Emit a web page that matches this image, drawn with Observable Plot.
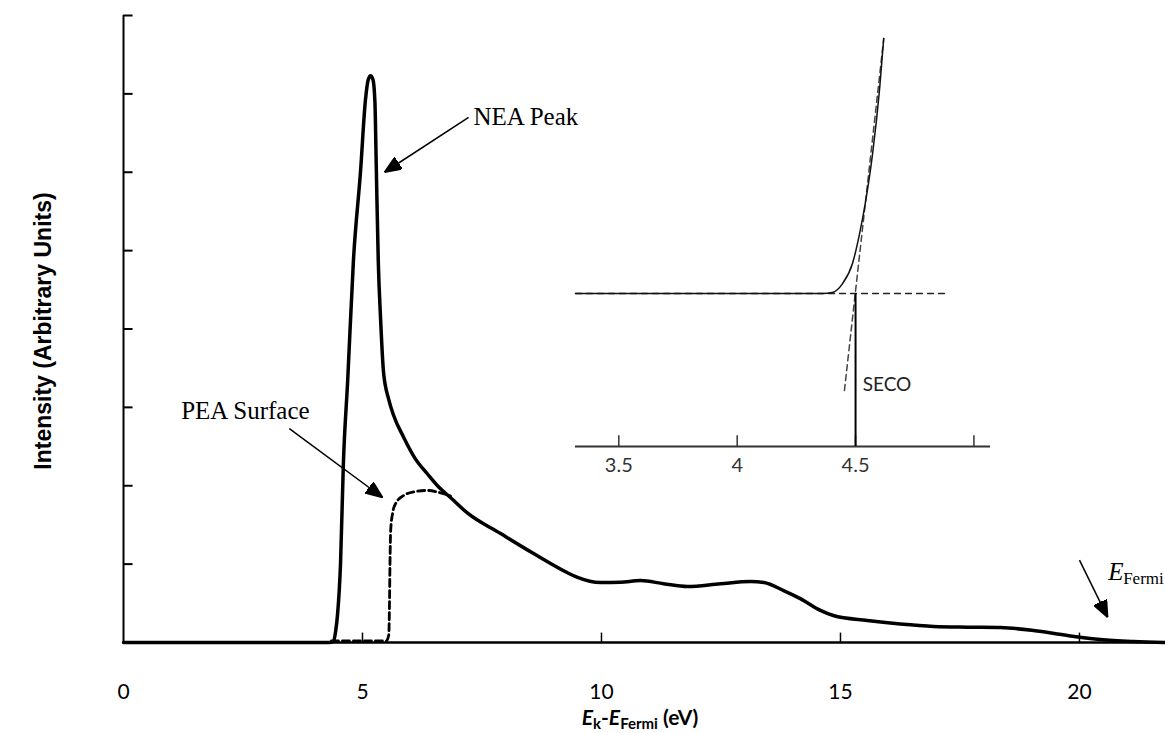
<!DOCTYPE html>
<html>
<head>
<meta charset="utf-8">
<script src="https://cdn.jsdelivr.net/npm/d3@7"></script>
<script src="https://cdn.jsdelivr.net/npm/@observablehq/plot@0.6"></script>
<style>
  body { margin: 0; background: #fff; }
  #wrap { position: relative; width: 1165px; height: 733px; overflow: hidden; }
  #wrap svg { position: absolute; left: 0; top: 0; }
  #xlabel { position: absolute; left: 0; width: 1280px; top: 705px; text-align: center;
            font: bold 21px Lato, sans-serif; line-height: 24px; color: #000; }
  #xlabel sub { font-size: 15px; vertical-align: -4px; line-height: 0; }
</style>
</head>
<body>
<div id="wrap"><div id="xlabel"><i>E</i><sub>k</sub>-<i>E</i><sub>Fermi</sub> (eV)</div></div>
<script>
// ---------- data ----------
const xTicks = [0, 5, 10, 15, 20];
const xTickLabels = ["0", "5", "10", "15", "20"];
const yTicks = [1, 2, 3, 4, 5, 6, 7, 8];

// NEA (solid) spectrum
const neaEnergy = [0, 4.3, 4.39, 4.44, 4.48, 4.54, 4.60, 4.69, 4.81, 4.96, 5.06, 5.12, 5.17, 5.22, 5.26, 5.29, 5.33, 5.38, 5.44, 5.55, 5.65, 5.86, 6.10, 6.36, 6.60, 6.84, 7.20, 7.89, 8.58, 9.29, 9.50, 9.98, 10.40, 10.82, 11.30, 11.80, 12.49, 13.12, 13.40, 13.81, 14.16, 14.58, 14.85, 15.56, 16.25, 16.95, 17.65, 18.35, 19.04, 19.75, 20.44, 21.13, 21.8];
const neaIntensity = [0, 0, 0.01, 0.15, 0.37, 1.0, 2.28, 3.34, 4.87, 6.02, 6.91, 7.18, 7.23, 7.18, 6.9, 6.02, 4.87, 4.11, 3.45, 3.1, 2.9, 2.62, 2.35, 2.15, 1.98, 1.85, 1.65, 1.39, 1.135, 0.89, 0.83, 0.765, 0.77, 0.79, 0.75, 0.714, 0.75, 0.778, 0.765, 0.663, 0.56, 0.41, 0.344, 0.28, 0.235, 0.204, 0.195, 0.19, 0.153, 0.089, 0.038, 0.013, 0];

// PEA surface (dashed) spectrum
const peaEnergy = [4.35, 5.5, 5.55, 5.565, 5.575, 5.59, 5.63, 5.69, 5.86, 6.10, 6.36, 6.60, 6.84];
const peaIntensity = [0.02, 0.02, 0.1, 0.5, 1.0, 1.43, 1.65, 1.77, 1.875, 1.925, 1.94, 1.915, 1.87];

// annotations (data units)
const arrowFrom = [[7.22, 6.70], [3.47, 2.73], [20.0, 1.05]];
const arrowTo = [[5.46, 6.0], [5.42, 1.85], [20.59, 0.32]];
const noteText = ["NEA Peak", "PEA Surface"];
const notePos = [[7.32, 6.70], [2.55, 2.96]];
const fermiPos = [20.6, 0.9];

// inset: zoom of the secondary electron cut-off
const insetTicks = [3.5, 4, 4.5, 5];
const insetTickLabels = ["3.5", "4", "4.5"];
const insetEnergy = [3.317, 4.0, 4.30, 4.36, 4.402, 4.445, 4.487, 4.517, 4.543, 4.572, 4.602, 4.619];
const insetIntensity = [0, 0, 0, 0, 0.007, 0.065, 0.196, 0.392, 0.608, 0.915, 1.346, 1.667];
const baselineFit = [[3.317, 0], [4.891, 0]];
const slopeFit = [[4.453, -0.634], [4.619, 1.667]];
const secoEnergy = 4.5;
const secoLabelPos = [4.53, -0.6];

// ---------- helpers ----------
function filledArrow(color, context) {
  const doc = (context && context.document) || document;
  const ns = "http://www.w3.org/2000/svg";
  const m = doc.createElementNS(ns, "marker");
  m.setAttribute("viewBox", "0 0 17 14");
  m.setAttribute("refX", "17");
  m.setAttribute("refY", "7");
  m.setAttribute("markerUnits", "userSpaceOnUse");
  m.setAttribute("markerWidth", "17");
  m.setAttribute("markerHeight", "14");
  m.setAttribute("orient", "auto");
  const p = doc.createElementNS(ns, "path");
  p.setAttribute("d", "M0,0L17,7L0,14Z");
  p.setAttribute("fill", "black");
  m.appendChild(p);
  return m;
}

const nea = neaEnergy.map((e, i) => ({e, v: neaIntensity[i]}));
const pea = peaEnergy.map((e, i) => ({e, v: peaIntensity[i]}));
const arrows = arrowFrom.map((f, i) => ({x1: f[0], y1: f[1], x2: arrowTo[i][0], y2: arrowTo[i][1]}));
const notes = noteText.map((t, i) => ({t, x: notePos[i][0], y: notePos[i][1]}));
const inset = insetEnergy.map((e, i) => ({e, v: insetIntensity[i]}));

const serif = "'Liberation Serif', 'Times New Roman', serif";
const sans = "Lato, 'Open Sans', sans-serif";

const mainPlot = Plot.plot({
  width: 1165, height: 733,
  marginLeft: 123, marginRight: 0, marginTop: 15, marginBottom: 91,
  x: {domain: [0, 21.8], axis: null},
  y: {domain: [0, 8], axis: null},
  style: {background: "transparent", fontFamily: sans, fontSize: "20px", color: "black"},
  marks: [
    Plot.axisX(xTicks, {tickSize: 0, tickPadding: 42, tickFormat: (d, i) => xTickLabels[i], fontSize: 21, fontFamily: sans, label: null}),
    Plot.ruleX(xTicks.slice(1), {y1: 0, y2: 0.12, stroke: "black", strokeWidth: 1.5}),
    Plot.ruleY(yTicks, {x1: 0, x2: 0.2, stroke: "black", strokeWidth: 2}),
    Plot.ruleX([0], {y1: 0, y2: 8, stroke: "black", strokeWidth: 2}),
    Plot.ruleY([0], {stroke: "black", strokeWidth: 2.5}),
    Plot.line(pea, {x: "e", y: "v", stroke: "black", strokeWidth: 2.8, strokeDasharray: "7,4", curve: "monotone-x"}),
    Plot.line(nea, {x: "e", y: "v", stroke: "black", strokeWidth: 3.5, curve: "monotone-x"}),
    Plot.link(arrows, {x1: "x1", y1: "y1", x2: "x2", y2: "y2", stroke: "black", strokeWidth: 1.5, markerEnd: filledArrow}),
    Plot.text(notes.slice(0, 1), {x: "x", y: "y", text: "t", textAnchor: "start", fontFamily: serif, fontSize: 25, fill: "black"}),
    Plot.text(notes.slice(1), {x: "x", y: "y", text: "t", textAnchor: "middle", fontFamily: serif, fontSize: 25, fill: "black"}),
    Plot.text(["E"], {x: fermiPos[0], y: fermiPos[1], textAnchor: "start", fontFamily: serif, fontStyle: "italic", fontSize: 25, fill: "black"}),
    Plot.text(["Fermi"], {x: fermiPos[0], y: fermiPos[1], dx: 15, dy: 7, textAnchor: "start", fontFamily: serif, fontSize: 17, fill: "black"}),
    Plot.text(["Intensity (Arbitrary Units)"], {frameAnchor: "left", textAnchor: "middle", rotate: -90, dx: -80, dy: 2, fontFamily: "'Liberation Sans', Arial, sans-serif", fontWeight: "bold", fontSize: 23, fill: "black"})
  ]
});

const insetPlot = Plot.plot({
  width: 1165, height: 733,
  marginLeft: 575, marginRight: 175, marginTop: 38, marginBottom: 287,
  x: {domain: [3.317, 5.07], axis: null},
  y: {domain: [-1, 1.667], axis: null},
  style: {background: "transparent", fontFamily: sans, fontSize: "20px", color: "#222"},
  marks: [
    Plot.ruleY([-1], {stroke: "#333", strokeWidth: 1.8}),
    Plot.ruleX(insetTicks, {y1: -1, y2: -0.93, stroke: "#333", strokeWidth: 1.5}),
    Plot.axisX(insetTicks.slice(0, 3), {tickSize: 0, tickPadding: 11, tickFormat: (d, i) => insetTickLabels[i], fontSize: 20, fontFamily: sans, fill: "#333", label: null}),
    Plot.line(baselineFit, {x: d => d[0], y: d => d[1], stroke: "#222", strokeWidth: 1.3, strokeDasharray: "6,5"}),
    Plot.line(slopeFit, {x: d => d[0], y: d => d[1], stroke: "#444", strokeWidth: 1.5, strokeDasharray: "6,4"}),
    Plot.line(inset, {x: "e", y: "v", stroke: "#111", strokeWidth: 1.5, curve: "monotone-x"}),
    Plot.ruleX([secoEnergy], {y1: -1, y2: 0, stroke: "black", strokeWidth: 2}),
    Plot.text(["SECO"], {x: secoLabelPos[0], y: secoLabelPos[1], textAnchor: "start", fontFamily: sans, fontSize: 19, fill: "#222"})
  ]
});

const wrap = document.getElementById("wrap");
wrap.insertBefore(mainPlot, wrap.firstChild);
wrap.insertBefore(insetPlot, mainPlot.nextSibling);
</script>
</body>
</html>
